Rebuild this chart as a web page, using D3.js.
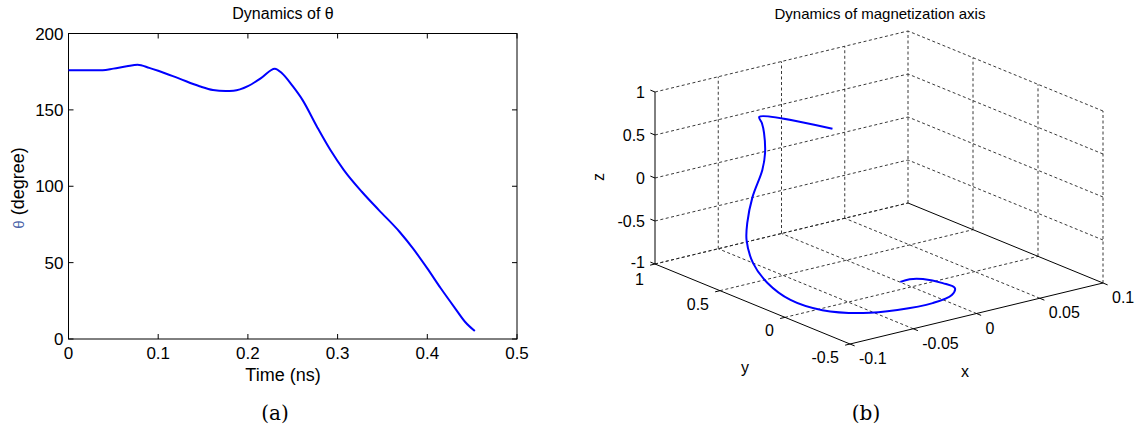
<!DOCTYPE html>
<html>
<head>
<meta charset="utf-8">
<script src="https://cdn.jsdelivr.net/npm/d3@7/dist/d3.min.js"></script>
<style>
body{margin:0;background:#fff;}
text{font-family:"Liberation Sans",Arial,sans-serif;fill:#000;}
.cap{font-family:"DejaVu Serif","Liberation Serif",serif;}
</style>
</head>
<body>
<svg id="fig" width="1142" height="433"></svg>
<script>
// ---- panel (a): theta vs time ----
var timeNs = [0, 0.02, 0.038, 0.05, 0.065, 0.077, 0.09, 0.1, 0.123, 0.146, 0.161, 0.175, 0.184, 0.2, 0.215, 0.23,
              0.238, 0.25, 0.261, 0.277, 0.292, 0.307, 0.327, 0.346, 0.369, 0.384, 0.4, 0.415, 0.431, 0.442, 0.453];
var thetaDeg = [176, 176, 176, 177, 178.5, 179.5, 177.5, 175.6, 170.6, 165.5, 163, 162.3, 162.5, 165.5, 171, 177,
                174, 165.5, 156.4, 139, 123.7, 110.6, 96.4, 84.4, 70.2, 59.3, 46.2, 33.2, 20.1, 11.3, 5.2];
var timeTicks = [0, 0.1, 0.2, 0.3, 0.4, 0.5];
var thetaTicks = [0, 50, 100, 150, 200];

// ---- panel (b): magnetization trajectory ----
var mx = [0.000, 0.008, 0.015, 0.020, 0.019, 0.007, -0.014, -0.039, -0.058, -0.073, -0.078, -0.075,
          -0.068, -0.057, -0.047, -0.032, -0.017, -0.013, -0.017, -0.026, -0.048, -0.056];
var my = [0.086, 0.092, 0.058, -0.046, -0.149, -0.242, -0.299, -0.271, -0.191, -0.025, 0.172, 0.378,
          0.557, 0.714, 0.806, 0.912, 0.982, 1.000, 0.969, 0.898, 0.704, 0.063];
var mz = [-0.996, -0.996, -0.998, -0.999, -0.989, -0.970, -0.954, -0.962, -0.980, -0.997, -0.982, -0.923,
          -0.828, -0.698, -0.590, -0.409, -0.189, -0.018, 0.249, 0.440, 0.710, 0.997];
var xTicksB = [-0.1, -0.05, 0, 0.05, 0.1];
var yTicksB = [-0.5, 0, 0.5, 1];
var zTicksB = [-1, -0.5, 0, 0.5, 1];

var svg = d3.select('#fig');

// ================= panel (a) =================
var L = 68.5, R = 517, T = 33.5, B = 339;
var xA = d3.scaleLinear().domain([0, 0.5]).range([L, R]);
var yA = d3.scaleLinear().domain([0, 200]).range([B, T]);
var ga = svg.append('g');

ga.append('rect')
    .attr('x', L).attr('y', T)
    .attr('width', R - L).attr('height', B - T)
    .attr('fill', 'none').attr('stroke', '#000').attr('stroke-width', 1);

var tk = 5;
timeTicks.forEach(function(d){
    ga.append('line').attr('x1', xA(d)).attr('x2', xA(d)).attr('y1', B).attr('y2', B - tk).attr('stroke', '#000');
    ga.append('line').attr('x1', xA(d)).attr('x2', xA(d)).attr('y1', T).attr('y2', T + tk).attr('stroke', '#000');
    ga.append('text').attr('x', xA(d)).attr('y', B + 20)
        .attr('text-anchor', 'middle').style('font-size', '17px').text(d);
});
thetaTicks.forEach(function(d){
    ga.append('line').attr('x1', L).attr('x2', L + tk).attr('y1', yA(d)).attr('y2', yA(d)).attr('stroke', '#000');
    ga.append('line').attr('x1', R).attr('x2', R - tk).attr('y1', yA(d)).attr('y2', yA(d)).attr('stroke', '#000');
    ga.append('text').attr('x', L - 5).attr('y', yA(d) + 6)
        .attr('text-anchor', 'end').style('font-size', '17px').text(d);
});

var lineA = d3.line()
    .x(function(d, i){ return xA(timeNs[i]); })
    .y(function(d){ return yA(d); })
    .curve(d3.curveMonotoneX);
ga.append('path')
    .attr('d', lineA(thetaDeg))
    .attr('fill', 'none').attr('stroke', '#0000ff').attr('stroke-width', 2);

ga.append('text').attr('x', 283).attr('y', 19).attr('text-anchor', 'middle')
    .style('font-size', '16px').text('Dynamics of θ');
ga.append('text').attr('x', 283).attr('y', 381).attr('text-anchor', 'middle')
    .style('font-size', '18px').text('Time (ns)');
var yl = ga.append('text').attr('transform', 'translate(24,188) rotate(-90)')
    .attr('text-anchor', 'middle').style('font-size', '18px');
yl.append('tspan').style('fill', '#4a63a8').style('font-size', '15px').text('θ');
yl.append('tspan').text(' (degree)');
ga.append('text').attr('class', 'cap').attr('x', 275).attr('y', 420)
    .attr('text-anchor', 'middle').style('font-size', '20px').text('(a)');

// ================= panel (b) =================
var O = [850, 344], U = [253, -61], V = [-195, -80], W = [0, -172];
var xB = d3.scaleLinear().domain([-0.1, 0.1]).range([0, 1]);
var yB = d3.scaleLinear().domain([-0.5, 1]).range([0, 1]);
var zB = d3.scaleLinear().domain([-1, 1]).range([0, 1]);
function proj(x, y, z){
    var a = xB(x), b = yB(y), c = zB(z);
    return [O[0] + a * U[0] + b * V[0] + c * W[0], O[1] + a * U[1] + b * V[1] + c * W[1]];
}
var gb = svg.append('g');
function seg(p, q, dashed){
    var a = proj(p[0], p[1], p[2]), b = proj(q[0], q[1], q[2]);
    gb.append('line')
        .attr('x1', a[0]).attr('y1', a[1]).attr('x2', b[0]).attr('y2', b[1])
        .attr('stroke', dashed ? '#222' : '#000')
        .attr('stroke-width', dashed ? 0.9 : 1)
        .attr('stroke-dasharray', dashed ? '3,2.5' : null);
}

// back wall y = 1
xTicksB.forEach(function(x){ if (x > -0.1) seg([x, 1, -1], [x, 1, 1], true); });
zTicksB.forEach(function(z){ seg([-0.1, 1, z], [0.1, 1, z], true); });
// back wall x = 0.1
yTicksB.forEach(function(y){ if (y < 1) seg([0.1, y, -1], [0.1, y, 1], true); });
zTicksB.forEach(function(z){ if (z > -1) seg([0.1, -0.5, z], [0.1, 1, z], true); });
// floor z = -1
xTicksB.forEach(function(x){ if (x > -0.1 && x < 0.1) seg([x, -0.5, -1], [x, 1, -1], true); });
yTicksB.forEach(function(y){ if (y > -0.5) seg([-0.1, y, -1], [0.1, y, -1], true); });

// solid axis lines
seg([-0.1, 1, -1], [-0.1, 1, 1], false);
seg([-0.1, -0.5, -1], [-0.1, 1, -1], false);
seg([-0.1, -0.5, -1], [0.1, -0.5, -1], false);
seg([0.1, -0.5, -1], [0.1, 1, -1], false);

// ticks and labels
var tl = 5;
var vn = [V[0] / Math.hypot(V[0], V[1]), V[1] / Math.hypot(V[0], V[1])];
var un = [U[0] / Math.hypot(U[0], U[1]), U[1] / Math.hypot(U[0], U[1])];
zTicksB.forEach(function(z){
    var p = proj(-0.1, 1, z);
    gb.append('line').attr('x1', p[0]).attr('y1', p[1])
        .attr('x2', p[0] + vn[0] * tl).attr('y2', p[1] + vn[1] * tl).attr('stroke', '#000');
    gb.append('text').attr('x', p[0] - 10).attr('y', p[1] + (z === -1 ? 4 : 6))
        .attr('text-anchor', 'end').style('font-size', '16px').text(z);
});
yTicksB.forEach(function(y){
    var p = proj(-0.1, y, -1);
    gb.append('line').attr('x1', p[0]).attr('y1', p[1])
        .attr('x2', p[0] - un[0] * tl).attr('y2', p[1] - un[1] * tl).attr('stroke', '#000');
    gb.append('text').attr('x', p[0] - 11).attr('y', p[1] + (y === 1 ? 21 : 19))
        .attr('text-anchor', 'end').style('font-size', '16px').text(y);
});
xTicksB.forEach(function(x){
    var p = proj(x, -0.5, -1);
    gb.append('line').attr('x1', p[0]).attr('y1', p[1])
        .attr('x2', p[0] - vn[0] * tl).attr('y2', p[1] - vn[1] * tl).attr('stroke', '#000');
    gb.append('text').attr('x', p[0] + 9).attr('y', p[1] + 20)
        .attr('text-anchor', 'start').style('font-size', '16px').text(x);
});

// trajectory
var lineB = d3.line()
    .x(function(d){ return d[0]; })
    .y(function(d){ return d[1]; })
    .curve(d3.curveCatmullRom.alpha(0.5));
var pts = mx.map(function(d, i){ return proj(mx[i], my[i], mz[i]); });
gb.append('path')
    .attr('d', lineB(pts))
    .attr('fill', 'none').attr('stroke', '#0000ff').attr('stroke-width', 2);

gb.append('text').attr('x', 880).attr('y', 19).attr('text-anchor', 'middle')
    .style('font-size', '15px').text('Dynamics of magnetization axis');
gb.append('text').attr('transform', 'translate(604,177) rotate(-90)')
    .attr('text-anchor', 'middle').style('font-size', '16px').text('z');
gb.append('text').attr('x', 745).attr('y', 373).attr('text-anchor', 'middle')
    .style('font-size', '16px').text('y');
gb.append('text').attr('x', 965).attr('y', 377).attr('text-anchor', 'middle')
    .style('font-size', '16px').text('x');
gb.append('text').attr('class', 'cap').attr('x', 866).attr('y', 420)
    .attr('text-anchor', 'middle').style('font-size', '20px').text('(b)');
</script>
</body>
</html>
